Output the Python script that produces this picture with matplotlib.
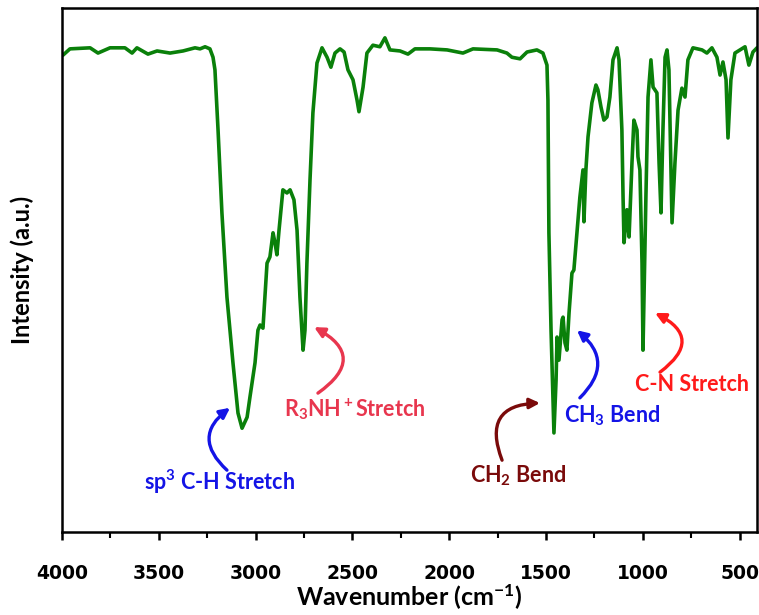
import matplotlib
matplotlib.use("Agg")
import numpy as np
import matplotlib.pyplot as plt
from matplotlib.ticker import MultipleLocator

# FTIR spectrum (wavenumber in cm-1, intensity in a.u.)
wavenumber = [3995, 3959, 3855, 3814, 3752, 3675, 3638, 3613, 3556, 3509,
              3442, 3375, 3313, 3287, 3261, 3236, 3220, 3210, 3194, 3174,
              3148, 3117, 3091, 3070, 3044, 3029, 3003, 2988, 2977, 2962,
              2952, 2941, 2926, 2910, 2900, 2890, 2879, 2859, 2838, 2822,
              2802, 2786, 2771, 2755, 2745, 2735, 2719, 2704, 2683, 2657,
              2631, 2611, 2590, 2564, 2543, 2523, 2497, 2476, 2466, 2445,
              2425, 2394, 2358, 2332, 2306, 2254, 2213, 2177, 2099, 2011,
              1929, 1877, 1753, 1702, 1676, 1634, 1598, 1547, 1516, 1495,
              1490, 1485, 1474, 1464, 1459, 1448, 1443, 1433, 1417, 1412,
              1402, 1392, 1381, 1366, 1356, 1340, 1325, 1309, 1304, 1294,
              1283, 1263, 1242, 1232, 1216, 1201, 1185, 1170, 1154, 1133,
              1123, 1108, 1102, 1097, 1082, 1071, 1056, 1046, 1030, 1025,
              1015, 1004, 999, 994, 984, 973, 958, 947, 927, 916,
              906, 896, 885, 875, 865, 855, 849, 834, 818, 798,
              782, 767, 741, 694, 669, 643, 617, 601, 586, 570,
              560, 545, 524, 472, 452, 431, 410]
intensity = [91.0, 92.2, 92.4, 91.4, 92.4, 92.4, 91.4, 92.4, 91.2, 91.8,
             91.4, 91.8, 92.4, 92.2, 92.6, 92.2, 90.6, 88.2, 76.7, 60.9,
             44.8, 32.3, 22.7, 19.8, 21.9, 25.8, 32.3, 38.5, 39.5, 38.9,
             44.8, 51.3, 52.5, 57.1, 55.2, 52.9, 57.6, 65.3, 64.7, 65.3,
             63.4, 57.6, 44.8, 34.7, 38.5, 51.3, 67.2, 80.0, 89.5, 92.4,
             90.6, 88.7, 91.4, 92.2, 91.6, 88.2, 86.3, 82.4, 80.2, 84.9,
             91.4, 92.9, 92.6, 94.3, 92.0, 91.8, 91.2, 92.2, 92.2, 92.0,
             91.4, 92.2, 92.0, 91.4, 90.6, 90.3, 91.6, 92.0, 91.4, 89.1,
             82.4, 57.1, 38.5, 25.8, 18.9, 29.0, 37.2, 32.8, 40.5, 41.0,
             36.1, 34.7, 41.8, 49.4, 50.0, 57.1, 63.9, 69.1, 59.2, 69.1,
             75.4, 81.9, 85.3, 84.4, 81.1, 78.6, 79.2, 83.0, 90.1, 92.4,
             90.1, 76.7, 63.9, 55.2, 61.5, 56.3, 70.4, 78.6, 76.7, 71.6,
             69.1, 51.3, 34.7, 44.8, 63.9, 83.0, 90.1, 84.9, 83.8, 70.4,
             60.9, 76.7, 90.6, 92.0, 88.2, 70.4, 59.0, 70.4, 80.5, 84.7,
             83.0, 90.1, 92.4, 92.0, 91.4, 92.4, 90.6, 87.2, 89.7, 86.3,
             75.2, 86.3, 91.4, 92.6, 89.1, 91.6, 92.4]

# peak assignments: label, colour, text position, arrow tail, arrow tip, curvature
labels = ["sp$^3$ C-H Stretch", "R$_3$NH$^+$Stretch", "CH$_2$ Bend",
          "CH$_3$ Bend", "C-N Stretch"]
label_colors = ["#1414e6", "#e8364e", "#7a0a0a", "#1414e6", "#ff1a1a"]
text_pos = [(3184, 9.6), (2487, 23.4), (1645, 10.8), (1159, 22.2), (746, 28.2)]
arrow_tail = [(3148, 11.8), (2678, 26.5), (1727, 13.7), (1325, 25.6), (911, 30.5)]
arrow_tip = [(3132, 23.7), (2698, 39.1), (1531, 24.6), (1340, 38.5), (937, 41.8)]
arrow_rad = [-0.6, 0.8, -0.7, 0.55, 0.8]

plt.rcParams['font.family'] = ['Lato', 'DejaVu Sans']
plt.rcParams['mathtext.fontset'] = 'custom'
plt.rcParams['mathtext.rm'] = 'Lato:bold'
plt.rcParams['mathtext.bf'] = 'Lato:bold'
plt.rcParams['mathtext.it'] = 'Lato:bold'
plt.rcParams['mathtext.default'] = 'regular'

fig = plt.figure(figsize=(7.59, 6.15), dpi=100)
ax = fig.add_axes([0.0817, 0.135, 0.9157, 0.852])

ax.plot(wavenumber, intensity, color='#0a800a', lw=2.6,
        solid_joinstyle='round', solid_capstyle='round')

ax.set_xlim(4000, 410)
ax.set_ylim(0, 100)
ax.set_yticks([])
ax.xaxis.set_major_locator(MultipleLocator(500))
ax.xaxis.set_minor_locator(MultipleLocator(250))
ax.tick_params(axis='x', which='major', direction='out', length=6, width=1.8,
               pad=17)
ax.tick_params(axis='x', which='minor', direction='out', length=4, width=1.5)
for lbl in ax.get_xticklabels():
    lbl.set_fontfamily('DejaVu Sans')
    lbl.set_fontweight('bold')
    lbl.set_fontsize(13.5)
for sp in ax.spines.values():
    sp.set_linewidth(1.8)

ax.set_xlabel("Wavenumber (cm$^{-1}$)", fontsize=18, fontweight='bold')
ax.xaxis.set_label_coords(0.5, -0.097)
ax.set_ylabel("Intensity (a.u.)", fontsize=17, fontweight='bold', labelpad=20)

for i in range(len(labels)):
    ax.text(text_pos[i][0], text_pos[i][1], labels[i], color=label_colors[i],
            fontsize=15.5, fontweight='bold', ha='center', va='center')
    ax.annotate("", xy=arrow_tip[i], xytext=arrow_tail[i],
                arrowprops=dict(arrowstyle='-|>,head_length=0.6,head_width=0.3',
                                color=label_colors[i], lw=2.4,
                                shrinkA=0, shrinkB=0,
                                connectionstyle=f"arc3,rad={arrow_rad[i]}"))

fig.savefig("out.png", dpi=100)
